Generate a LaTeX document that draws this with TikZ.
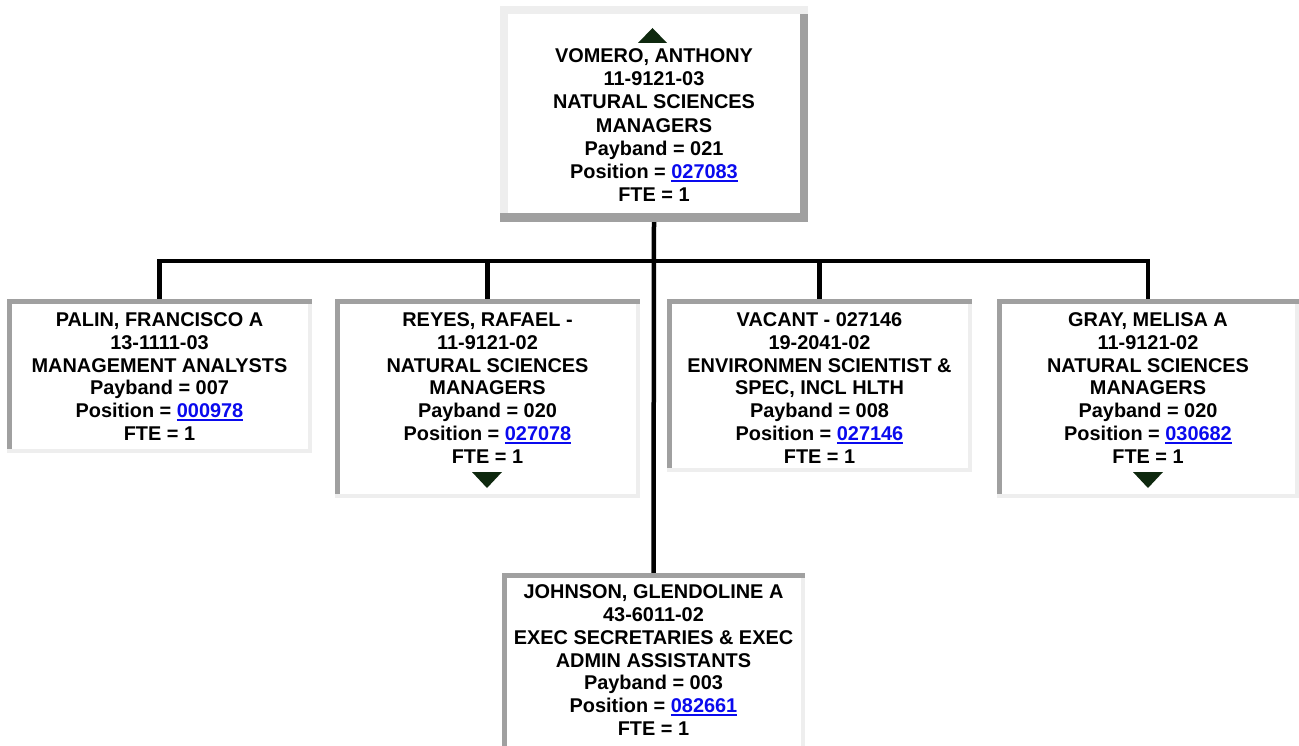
\documentclass[tikz,border=0pt]{standalone}
\usepackage{fontspec}
\setmainfont{Liberation Sans}
\definecolor{bdark}{RGB}{160,160,160}
\definecolor{blight}{RGB}{238,238,238}
\definecolor{tri}{RGB}{14,40,14}
\definecolor{linkblue}{RGB}{10,10,238}
\newcommand\lnk[1]{{\color{linkblue}\setbox0\hbox{#1}\rlap{\rule[-3.6pt]{\wd0}{2.2pt}}\box0}}
\newcommand\kidframe[1]{%
 \fill[bdark] (#1.north west) rectangle ([yshift=-4.5pt]#1.north east);
 \fill[bdark] ([yshift=-4.5pt]#1.north west) rectangle ([xshift=4.5pt,yshift=4.5pt]#1.south west);
 \fill[blight] ([xshift=-4.5pt,yshift=-4.5pt]#1.north east) rectangle (#1.south east);
 \fill[blight] (#1.south west) rectangle ([yshift=4.5pt]#1.south east);}
\tikzset{
 boxnode/.style={draw=none,fill=white,rectangle,inner sep=0pt,outer sep=0pt},
 info/.style={align=center,anchor=north,inner sep=0pt,
   font=\fontsize{19.9}{22.8}\selectfont\bfseries},
 infotop/.style={info,font=\fontsize{19.9}{23.2}\selectfont\bfseries},
 conn/.style={line width=4.5pt,black,line join=miter},
 arrowtri/.style={fill=tri}
}
\begin{document}
\begin{tikzpicture}[x=1pt,y=-1pt]
\useasboundingbox (0,0) rectangle (1299,746);
\clip (0,0) rectangle (1299,746);
% boxes (frames as nodes)
\node[boxnode,minimum width=308pt,minimum height=216pt] (top) at (654,114) {};
\node[boxnode,minimum width=305pt,minimum height=154pt] (palin) at (159.5,376) {};
\node[boxnode,minimum width=305pt,minimum height=199pt] (reyes) at (487.5,398.5) {};
\node[boxnode,minimum width=305pt,minimum height=173pt] (vacant) at (819.5,385.5) {};
\node[boxnode,minimum width=302pt,minimum height=199pt] (gray) at (1148,398.5) {};
\node[boxnode,minimum width=303pt,minimum height=187pt] (johnson) at (653.5,666.5) {};
% connectors
\draw[conn] (top.south) -- (johnson.north);
\draw[conn] (palin.north) -- ++(0,-38) -| (gray.north);
\draw[conn] (reyes.north) -- ++(0,-38);
\draw[conn] (vacant.north) -- ++(0,-38);
% redraw box fills over connector ends
\fill[white] ([yshift=-4pt]palin.north west) rectangle (palin.south east);
\fill[white] ([yshift=-4pt]reyes.north west) rectangle (reyes.south east);
\fill[white] ([yshift=-4pt]vacant.north west) rectangle (vacant.south east);
\fill[white] ([yshift=-4pt]gray.north west) rectangle (gray.south east);
\fill[white] ([yshift=-4pt]johnson.north west) rectangle (johnson.south east);
\fill[white] (top.north west) rectangle ([yshift=8pt]top.south east);
% top frame (raised)
\fill[blight] (top.north west) rectangle ([yshift=-8pt]top.north east);
\fill[blight] ([yshift=-8pt]top.north west) rectangle ([xshift=8pt,yshift=9pt]top.south west);
\fill[bdark] ([xshift=-8pt,yshift=-8pt]top.north east) rectangle (top.south east);
\fill[bdark] (top.south west) rectangle ([yshift=9pt]top.south east);
% child frames (sunken)
\kidframe{palin}
\kidframe{reyes}
\kidframe{vacant}
\kidframe{gray}
\kidframe{johnson}
% triangles
\fill[arrowtri] (638,43) -- (667,43) -- (652.5,28) -- cycle;
\fill[arrowtri] (472,472) -- (502,472) -- (487,488) -- cycle;
\fill[arrowtri] (1133,472) -- (1163,472) -- (1148,488) -- cycle;
% texts
\node[infotop] (top-t) at (654,48.5) {VOMERO, ANTHONY\\11-9121-03\\NATURAL SCIENCES\\MANAGERS\\Payband = 021\\Position = \lnk{027083}\\FTE = 1};
\node[info] (palin-t) at (159.5,312.5) {PALIN, FRANCISCO A\\13-1111-03\\MANAGEMENT ANALYSTS\\Payband = 007\\Position = \lnk{000978}\\FTE = 1};
\node[info] (reyes-t) at (487.5,312.5) {REYES, RAFAEL -\\11-9121-02\\NATURAL SCIENCES\\MANAGERS\\Payband = 020\\Position = \lnk{027078}\\FTE = 1};
\node[info] (vacant-t) at (819.5,312.5) {VACANT - 027146\\19-2041-02\\ENVIRONMEN SCIENTIST \&\\SPEC, INCL HLTH\\Payband = 008\\Position = \lnk{027146}\\FTE = 1};
\node[info] (gray-t) at (1148,312.5) {GRAY, MELISA A\\11-9121-02\\NATURAL SCIENCES\\MANAGERS\\Payband = 020\\Position = \lnk{030682}\\FTE = 1};
\node[info] (johnson-t) at (653.5,584.5) {JOHNSON, GLENDOLINE A\\43-6011-02\\EXEC SECRETARIES \& EXEC\\ADMIN ASSISTANTS\\Payband = 003\\Position = \lnk{082661}\\FTE = 1};
\end{tikzpicture}
\end{document}
